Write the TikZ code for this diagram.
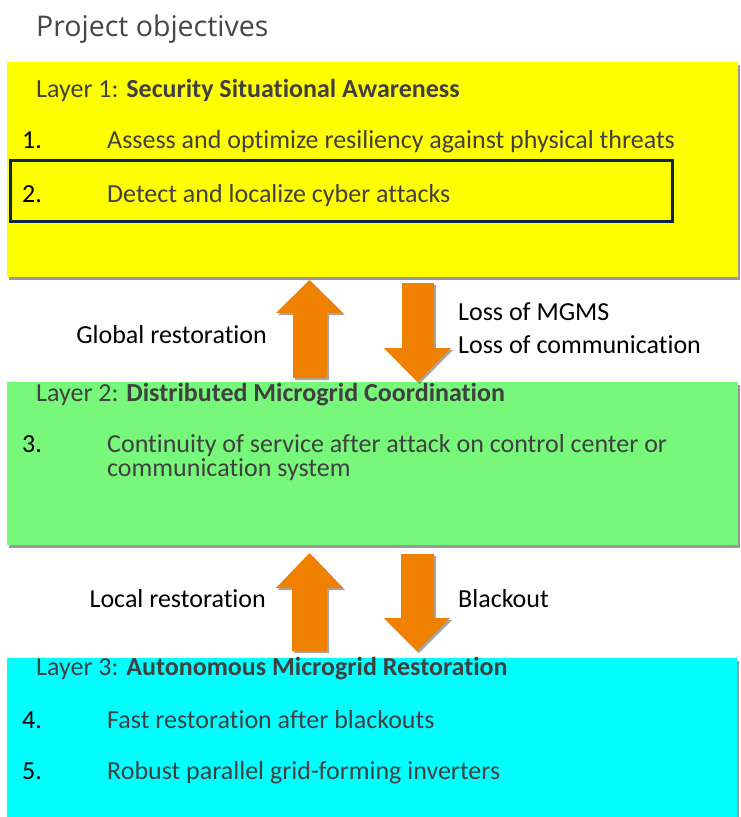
\documentclass[tikz,border=0pt]{standalone}
\usepackage{fontspec}
\setmainfont{Carlito}[RawFeature={-liga;-dlig}]
\newfontfamily\titlefont{Open Sans}
\usetikzlibrary{shadows}
\definecolor{lyellow}{RGB}{255,255,0}
\definecolor{lgreen}{RGB}{119,248,122}
\definecolor{lcyan}{RGB}{0,255,255}
\definecolor{arroworange}{RGB}{240,128,0}
\definecolor{navyline}{RGB}{12,35,80}
\definecolor{txtgray}{RGB}{64,64,64}
\definecolor{titlegray}{RGB}{70,70,70}
\tikzset{
  layerbox/.style={draw=none, inner sep=0pt, anchor=north west,
    drop shadow={shadow xshift=2pt, shadow yshift=-3pt, opacity=0.4, fill=black}},
  bodytext/.style={inner sep=0pt, anchor=base west, text=txtgray,
    font=\fontsize{26}{24}\selectfont},
  numtext/.style={inner sep=0pt, anchor=base west, text=black,
    font=\fontsize{26}{26}\selectfont},
  lbltext/.style={inner sep=0pt, text=black, font=\fontsize{26}{26}\selectfont},
  blockarrow/.style={fill=arroworange, draw=none,
    drop shadow={shadow xshift=2pt, shadow yshift=-2pt, opacity=0.35, fill=black}}
}
\begin{document}
\begin{tikzpicture}[x=1pt,y=-1pt]
\useasboundingbox (0,0) rectangle (740,817);
\fill[white] (0,0) rectangle (740,817);
% title
\node[inner sep=0pt, anchor=base west, text=titlegray, font=\titlefont\fontsize{28.5}{28.5}\selectfont] (title) at (36,36) {Project objectives};
% layer boxes
\node[layerbox, fill=lyellow, minimum width=731pt, minimum height=215pt] (L1) at (7,62) {};
\node[layerbox, fill=lgreen, minimum width=731pt, minimum height=163pt] (L2) at (7,382) {};
\node[layerbox, fill=lcyan, minimum width=730pt, minimum height=162pt] (L3) at (7,658) {};
% highlight box
\node[draw=navyline, line width=3.2pt, inner sep=0pt, anchor=north west, minimum width=662pt, minimum height=61pt] (hl) at (9,159) {};
% layer 1 text
\node[bodytext] (h1) at (36,97) {Layer 1: \textbf{Security Situational Awareness}};
\node[numtext] (n1) at (22,148) {1.};
\node[bodytext] (t1) at (107,148) {Assess and optimize resiliency against physical threats};
\node[numtext] (n2) at (22,202) {2.};
\node[bodytext] (t2) at (107,202) {Detect and localize cyber attacks};
% layer 2 text
\node[bodytext] (h2) at (36,401) {Layer 2: \textbf{Distributed Microgrid Coordination}};
\node[numtext] (n3) at (22,452) {3.};
\node[bodytext, align=left] (t3) at (107,476) {Continuity of service after attack on control center or\\communication system};
% layer 3 text
\node[bodytext] (h3) at (36,675) {Layer 3: \textbf{Autonomous Microgrid Restoration}};
\node[numtext] (n4) at (22,728) {4.};
\node[bodytext] (t4) at (107,728) {Fast restoration after blackouts};
\node[numtext] (n5) at (22,779) {5.};
\node[bodytext] (t5) at (107,779) {Robust parallel grid-forming inverters};
% labels
\node[lbltext, anchor=base east] (gr) at (267,343) {Global restoration};
\node[lbltext, anchor=base west] (lm) at (458,320) {Loss of MGMS};
\node[lbltext, anchor=base west] (lc) at (458,353) {Loss of communication};
\node[lbltext, anchor=base east] (lr) at (266,607) {Local restoration};
\node[lbltext, anchor=base west] (bo) at (458,607) {Blackout};
% arrows between layer 1 and 2
\path[blockarrow] (309.5,280) -- (343,313) -- (327,313) -- (327,378) -- (293,378) -- (293,313) -- (276,313) -- cycle;
\path[blockarrow] (402,283) -- (434,283) -- (434,348) -- (451,348) -- (417.5,382) -- (384,348) -- (402,348) -- cycle;
% arrows between layer 2 and 3
\path[blockarrow] (309.5,553) -- (343,588) -- (327,588) -- (327,651) -- (292,651) -- (292,588) -- (276,588) -- cycle;
\path[blockarrow] (401,554) -- (434,554) -- (434,618) -- (450,618) -- (417,651) -- (384,618) -- (401,618) -- cycle;
\end{tikzpicture}
\end{document}
